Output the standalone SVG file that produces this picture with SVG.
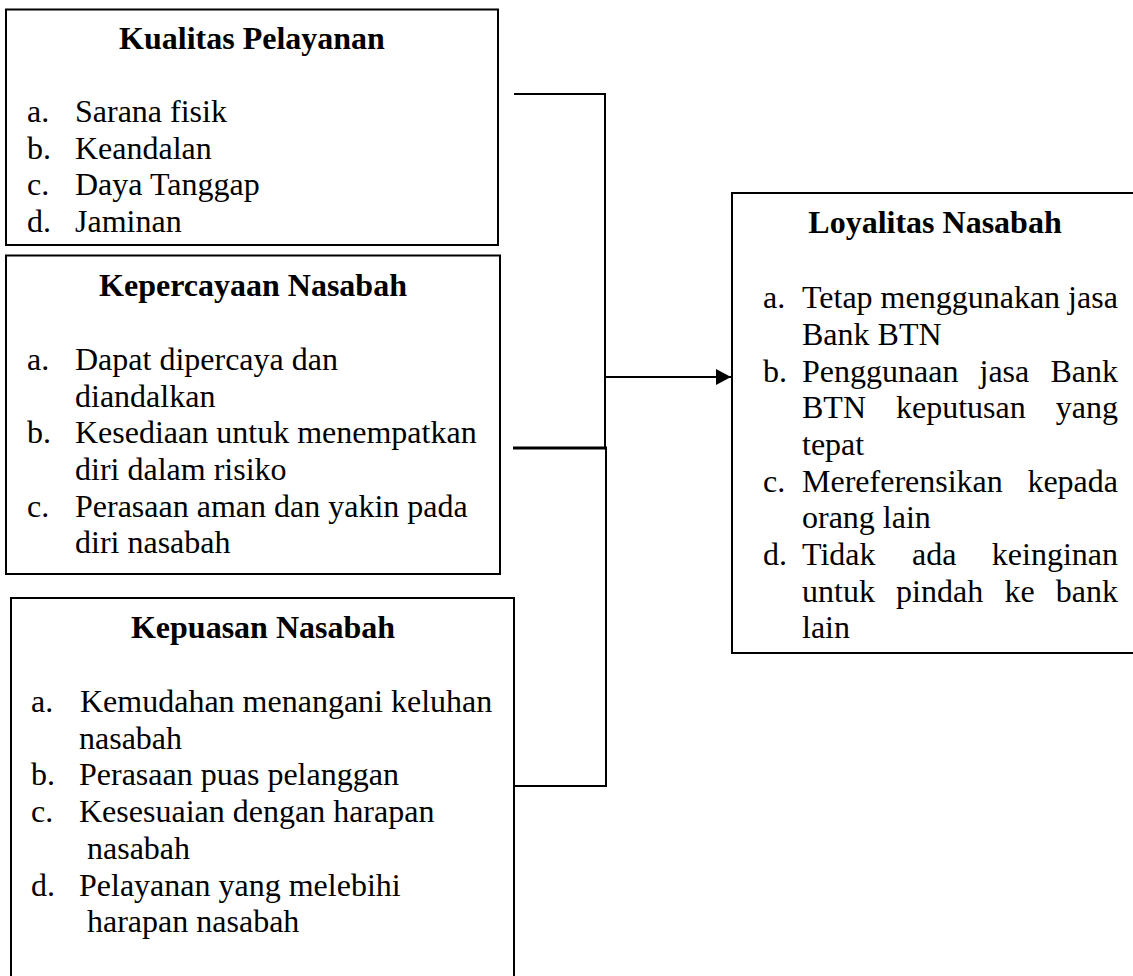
<svg xmlns="http://www.w3.org/2000/svg" width="1133" height="976" viewBox="0 0 1133 976">
<style>
.box{fill:#fff;stroke:#000;stroke-width:2}
.t{font-family:"Liberation Serif","Times New Roman",serif;font-size:32px;fill:#000}
.h{font-family:"Liberation Serif","Times New Roman",serif;font-size:32px;font-weight:bold;fill:#000;text-anchor:middle}
.ln{fill:none;stroke:#000;stroke-width:2}
</style>
<defs>
<marker id="arr" markerUnits="userSpaceOnUse" markerWidth="16" markerHeight="16" refX="15" refY="8" orient="auto">
<path d="M0,0 L15,8 L0,16 Z" fill="#000"/>
</marker>
</defs>
<rect width="1133" height="976" fill="#fff"/>

<g id="connectors">
<polyline class="ln" points="514,94 605,94 605,448"/>
<line x1="513" y1="448" x2="607" y2="448" stroke="#000" stroke-width="3"/>
<polyline class="ln" points="514,786 606,786 606,448"/>
<line class="ln" x1="605" y1="377" x2="731" y2="377" marker-end="url(#arr)"/>
</g>

<g id="kualitas">
<rect class="box" x="6" y="9.5" width="492" height="235.5"/>
<text class="h" x="252" y="49">Kualitas Pelayanan</text>
<text class="t" x="27" y="122">a.</text><text class="t" x="75" y="122">Sarana fisik</text>
<text class="t" x="27" y="158.7">b.</text><text class="t" x="75" y="158.7">Keandalan</text>
<text class="t" x="27" y="195.4">c.</text><text class="t" x="75" y="195.4">Daya Tanggap</text>
<text class="t" x="27" y="232">d.</text><text class="t" x="75" y="232">Jaminan</text>
</g>

<g id="kepercayaan">
<rect class="box" x="6" y="255.5" width="494" height="318.5"/>
<text class="h" x="253" y="296">Kepercayaan Nasabah</text>
<text class="t" x="27" y="370">a.</text><text class="t" x="75" y="370">Dapat dipercaya dan</text>
<text class="t" x="75" y="406.7">diandalkan</text>
<text class="t" x="27" y="443.4">b.</text><text class="t" x="75" y="443.4">Kesediaan untuk menempatkan</text>
<text class="t" x="75" y="480">diri dalam risiko</text>
<text class="t" x="27" y="516.7">c.</text><text class="t" x="75" y="516.7">Perasaan aman dan yakin pada</text>
<text class="t" x="75" y="553.4">diri nasabah</text>
</g>

<g id="kepuasan">
<rect class="box" x="11" y="598" width="503" height="400"/>
<text class="h" x="263" y="638">Kepuasan Nasabah</text>
<text class="t" x="31" y="712">a.</text><text class="t" x="80" y="712">Kemudahan menangani keluhan</text>
<text class="t" x="79" y="748.7">nasabah</text>
<text class="t" x="31" y="785.4">b.</text><text class="t" x="79" y="785.4">Perasaan puas pelanggan</text>
<text class="t" x="31" y="822">c.</text><text class="t" x="79" y="822">Kesesuaian dengan harapan</text>
<text class="t" x="87" y="858.8">nasabah</text>
<text class="t" x="31" y="895.5">d.</text><text class="t" x="79" y="895.5">Pelayanan yang melebihi</text>
<text class="t" x="87" y="932.2">harapan nasabah</text>
</g>

<g id="loyalitas">
<rect class="box" x="732" y="193" width="420" height="460"/>
<text class="h" x="935" y="233">Loyalitas Nasabah</text>
<text class="t" x="763" y="308">a.</text><text class="t" x="802" y="308">Tetap menggunakan jasa</text>
<text class="t" x="802" y="345">Bank BTN</text>
<text class="t" x="763" y="381.5">b.</text>
<text class="t" y="381.5"><tspan x="802">Penggunaan</tspan><tspan x="979.5">jasa</tspan><tspan x="1050.4">Bank</tspan></text>
<text class="t" y="418"><tspan x="802">BTN</tspan><tspan x="896">keputusan</tspan><tspan x="1055.8">yang</tspan></text>
<text class="t" x="802" y="455">tepat</text>
<text class="t" x="763" y="491.5">c.</text>
<text class="t" y="491.5"><tspan x="802">Mereferensikan</tspan><tspan x="1027.4">kepada</tspan></text>
<text class="t" x="802" y="528">orang lain</text>
<text class="t" x="763" y="565">d.</text>
<text class="t" y="565"><tspan x="802">Tidak</tspan><tspan x="912">ada</tspan><tspan x="991.8">keinginan</tspan></text>
<text class="t" y="601.5"><tspan x="802">untuk</tspan><tspan x="896.1">pindah</tspan><tspan x="1004.4">ke</tspan><tspan x="1055.8">bank</tspan></text>
<text class="t" x="802" y="638">lain</text>
</g>
</svg>
